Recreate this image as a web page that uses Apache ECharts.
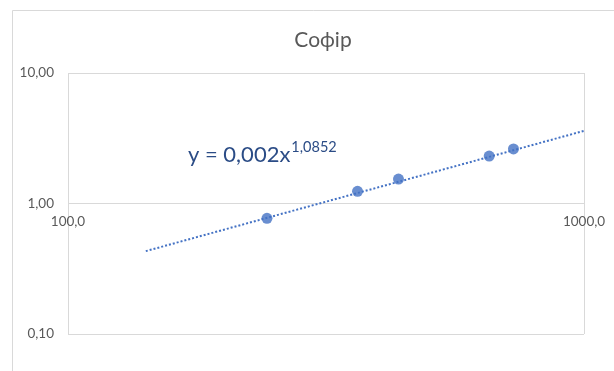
<!DOCTYPE html>
<html>
<head>
<meta charset="utf-8">
<script src="https://cdn.jsdelivr.net/npm/echarts@6/dist/echarts.min.js"></script>
<style>
  html, body { margin: 0; padding: 0; background: #fff; }
  #chart { width: 614px; height: 371px; }
</style>
</head>
<body>
<div id="chart"></div>
<script>
// Measured samples (log-log)
const sampleX = [243, 364, 437, 655, 730];
const sampleY = [0.77, 1.24, 1.54, 2.31, 2.62];

// Power trend y = a * x^b, as printed on the chart
const trendA = 0.002;
const trendB = 1.0852;
const trendRange = [141.5, 1000];

const titleText = 'Софір';
const eqMain = 'y = 0,002x';
const eqPow = '1,0852';

const FONT = "Lato, 'Noto Sans', sans-serif";
const BLUE = '#4472C4';
const GRID = '#d9d9d9';
const LABEL = '#595959';

const points = sampleX.map((x, i) => [x, sampleY[i]]);
const trend = trendRange.map(x => [x, trendA * Math.pow(x, trendB)]);

const chart = echarts.init(document.getElementById('chart'), null, { renderer: 'canvas' });
chart.setOption({
  animation: false,
  backgroundColor: '#fff',
  textStyle: { fontFamily: FONT },
  title: {
    text: titleText,
    left: 318, top: 25, textAlign: 'center',
    textStyle: { fontFamily: FONT, fontSize: 21, fontWeight: 'normal', color: LABEL }
  },
  grid: { left: 68, right: 30, top: 73, bottom: 37, containLabel: false },
  xAxis: {
    type: 'log', logBase: 10, min: 100, max: 1000,
    position: 'bottom', offset: -130,
    axisLine: { show: false },
    axisTick: { show: false },
    axisLabel: {
      margin: 11, fontSize: 13.5, color: LABEL, fontFamily: FONT,
      formatter: v => Number(v).toFixed(1).replace('.', ',')
    },
    splitLine: { show: true, lineStyle: { color: GRID, width: 1 } }
  },
  yAxis: {
    type: 'log', logBase: 10, min: 0.1, max: 10,
    axisLine: { show: false },
    axisTick: { show: false },
    axisLabel: {
      margin: 14, fontSize: 13.5, color: LABEL, fontFamily: FONT,
      formatter: v => Number(v).toFixed(2).replace('.', ',')
    },
    splitLine: { show: true, lineStyle: { color: GRID, width: 1 } }
  },
  graphic: [
    {
      type: 'rect', silent: true, z: -1,
      shape: { x: 12.5, y: 10.5, width: 700, height: 400 },
      style: { fill: 'none', stroke: GRID, lineWidth: 1 }
    },
    {
      type: 'text', left: 188, top: 140, z: 10,
      style: {
        text: '{a|' + eqMain + '}{b|' + eqPow + '}',
        rich: {
          a: { fontFamily: FONT, fontSize: 22, fill: '#2B4C86', lineHeight: 26, verticalAlign: 'bottom' },
          b: { fontFamily: FONT, fontSize: 14.5, fill: '#2B4C86', lineHeight: 26, verticalAlign: 'top', padding: [0, 0, 4, 1] }
        }
      }
    }
  ],
  series: [
    {
      type: 'line', data: trend, showSymbol: false, symbol: 'none',
      lineStyle: { color: BLUE, width: 2, type: [2, 2] },
      z: 2, silent: true
    },
    {
      type: 'scatter', data: points, symbol: 'circle', symbolSize: 11,
      itemStyle: { color: BLUE }, z: 3
    }
  ]
});
</script>
</body>
</html>
